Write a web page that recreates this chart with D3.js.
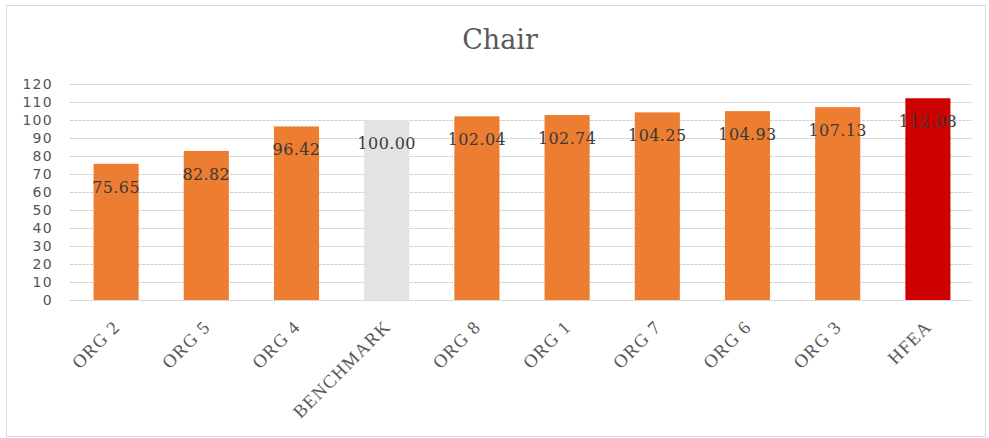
<!DOCTYPE html>
<html>
<head>
<meta charset="utf-8">
<script src="https://cdn.jsdelivr.net/npm/d3@7"></script>
<style>
  body { margin: 0; background: #fff; }
</style>
</head>
<body>
<div id="chart"></div>
<script>
var width = 989,
    height = 438;

var categories = ["ORG 2", "ORG 5", "ORG 4", "BENCHMARK", "ORG 8", "ORG 1", "ORG 7", "ORG 6", "ORG 3", "HFEA"];
var values = [75.65, 82.82, 96.42, 100.00, 102.04, 102.74, 104.25, 104.93, 107.13, 112.08];
var yTicks = [0, 10, 20, 30, 40, 50, 60, 70, 80, 90, 100, 110, 120];

var svg = d3.select("#chart")
    .append("svg")
    .attr("width", width)
    .attr("height", height);

// outer chart border
svg.append("rect")
    .attr("x", 6.5).attr("y", 5.5)
    .attr("width", 979).attr("height", 431)
    .style("fill", "#fff")
    .style("stroke", "#d9d9d9");

svg.append("text")
    .attr("x", 500).attr("y", 49)
    .attr("text-anchor", "middle")
    .style("font-family", "DejaVu Serif")
    .style("font-size", "27px")
    .style("fill", "#595959")
    .text("Chair");

var x = d3.scaleBand()
    .domain(categories)
    .range([71, 973])
    .paddingInner(0.5)
    .paddingOuter(0.25);

var y = d3.scaleLinear()
    .domain([0, 120])
    .range([300, 84]);

/* gridlines */
svg.append("g")
    .selectAll("line")
    .data(yTicks)
    .join("line")
    .attr("x1", 70).attr("x2", 972)
    .attr("y1", d => Math.round(y(d)) + 0.5)
    .attr("y2", d => Math.round(y(d)) + 0.5)
    .style("stroke", "#cfcfcf")
    .style("stroke-dasharray", "3,1");

/* y tick labels */
svg.append("g")
    .selectAll("text")
    .data(yTicks)
    .join("text")
    .attr("x", 53)
    .attr("y", d => y(d))
    .attr("dy", "0.36em")
    .attr("text-anchor", "end")
    .style("font-family", "DejaVu Sans")
    .style("font-size", "14px")
    .style("letter-spacing", "1.3px")
    .style("fill", "#555")
    .text(d => d);

function barColor(c) {
    if (c == "BENCHMARK") return "#e3e3e3";
    if (c == "HFEA") return "#cc0000";
    return "#ed7d31";
}

/* bars */
svg.append("g")
    .selectAll("rect")
    .data(values)
    .join("rect")
    .attr("x", (d, i) => x(categories[i]))
    .attr("y", d => y(d))
    .attr("width", x.bandwidth())
    .attr("height", d => y(0) - y(d))
    .style("fill", (d, i) => barColor(categories[i]));

/* data labels */
svg.append("g")
    .selectAll("text")
    .data(values)
    .join("text")
    .attr("x", (d, i) => x(categories[i]) + x.bandwidth() / 2)
    .attr("y", d => y(d) + 29)
    .attr("text-anchor", "middle")
    .style("font-family", "DejaVu Serif")
    .style("font-size", "16px")
    .style("letter-spacing", "0.4px")
    .style("fill", "#3a3a3a")
    .text(d => d.toFixed(2));

/* category labels, rotated */
svg.append("g")
    .selectAll("text")
    .data(categories)
    .join("text")
    .attr("transform", d => "translate(" + (x(d) + x.bandwidth() / 2 + 5) + ",328) rotate(-45)")
    .attr("text-anchor", "end")
    .style("font-family", "Liberation Serif")
    .style("font-size", "18.5px")
    .style("letter-spacing", "1.2px")
    .style("fill", "#595959")
    .text(d => d);
</script>
</body>
</html>
